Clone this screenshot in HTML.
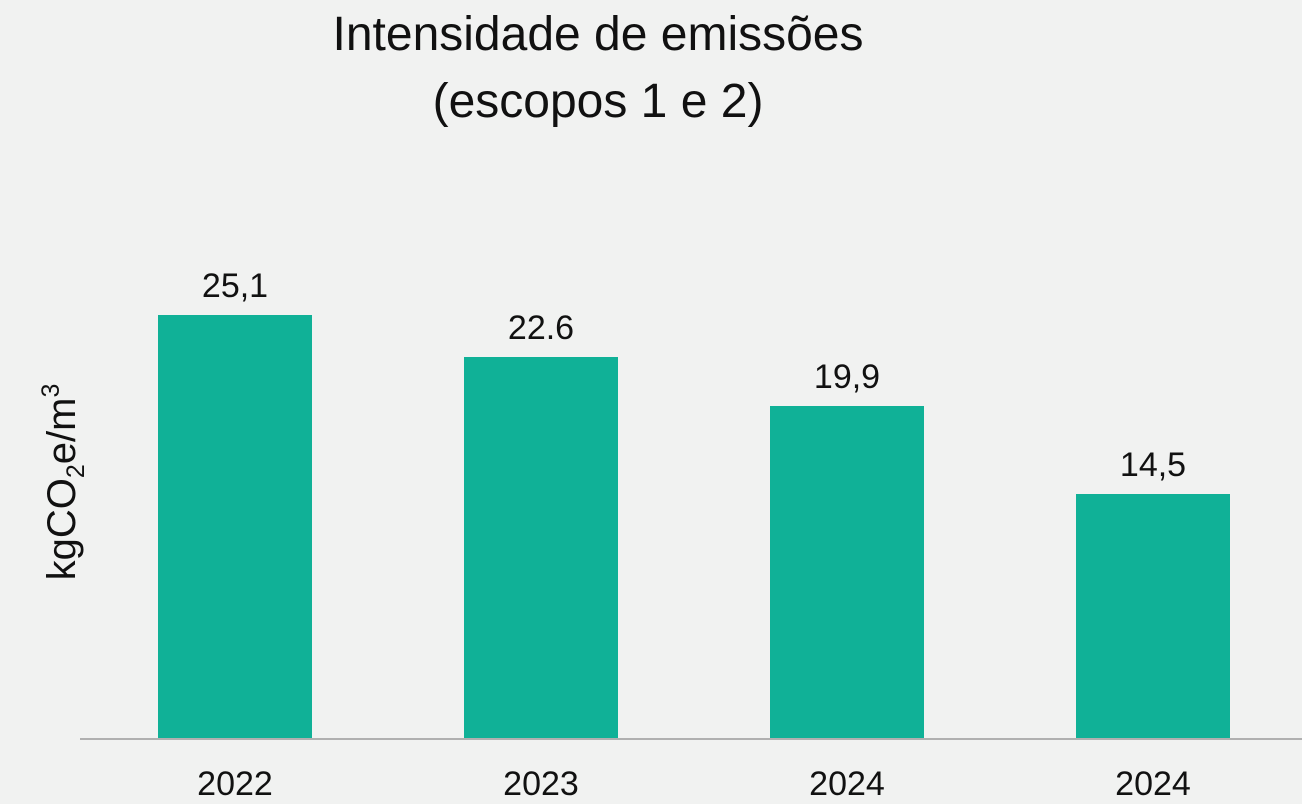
<!DOCTYPE html>
<html><head><meta charset="utf-8"><style>
html,body{margin:0;padding:0;background:#f1f2f1;}
svg{display:block;font-family:"Liberation Sans",sans-serif;}
</style></head><body>
<svg width="1302" height="804" viewBox="0 0 1302 804">
<rect width="1302" height="804" fill="#f1f2f1"/>
<text x="598" y="50" font-size="48" text-anchor="middle" fill="#111">Intensidade de emissões</text>
<text x="598" y="117" font-size="48" text-anchor="middle" fill="#111">(escopos 1 e 2)</text>
<g fill="#10b197">
<rect x="158" y="315" width="154" height="424"/>
<rect x="464" y="357" width="154" height="382"/>
<rect x="770" y="406" width="154" height="333"/>
<rect x="1076" y="494" width="154" height="245"/>
</g>
<line x1="80" y1="739" x2="1302" y2="739" stroke="#b0b0b0" stroke-width="2"/>
<g font-size="34" text-anchor="middle" fill="#111">
<text x="235" y="297">25,1</text>
<text x="541" y="339">22.6</text>
<text x="847" y="388">19,9</text>
<text x="1153" y="476">14,5</text>
<text x="235" y="795">2022</text>
<text x="541" y="795">2023</text>
<text x="847" y="795">2024</text>
<text x="1153" y="795">2024</text>
</g>
<text transform="translate(75,482) rotate(-90)" font-size="40" text-anchor="middle" fill="#111">kgCO<tspan font-size="25" dy="9">2</tspan><tspan dy="-9">e/m</tspan><tspan font-size="25" dy="-16">3</tspan></text>
</svg>
</body></html>
